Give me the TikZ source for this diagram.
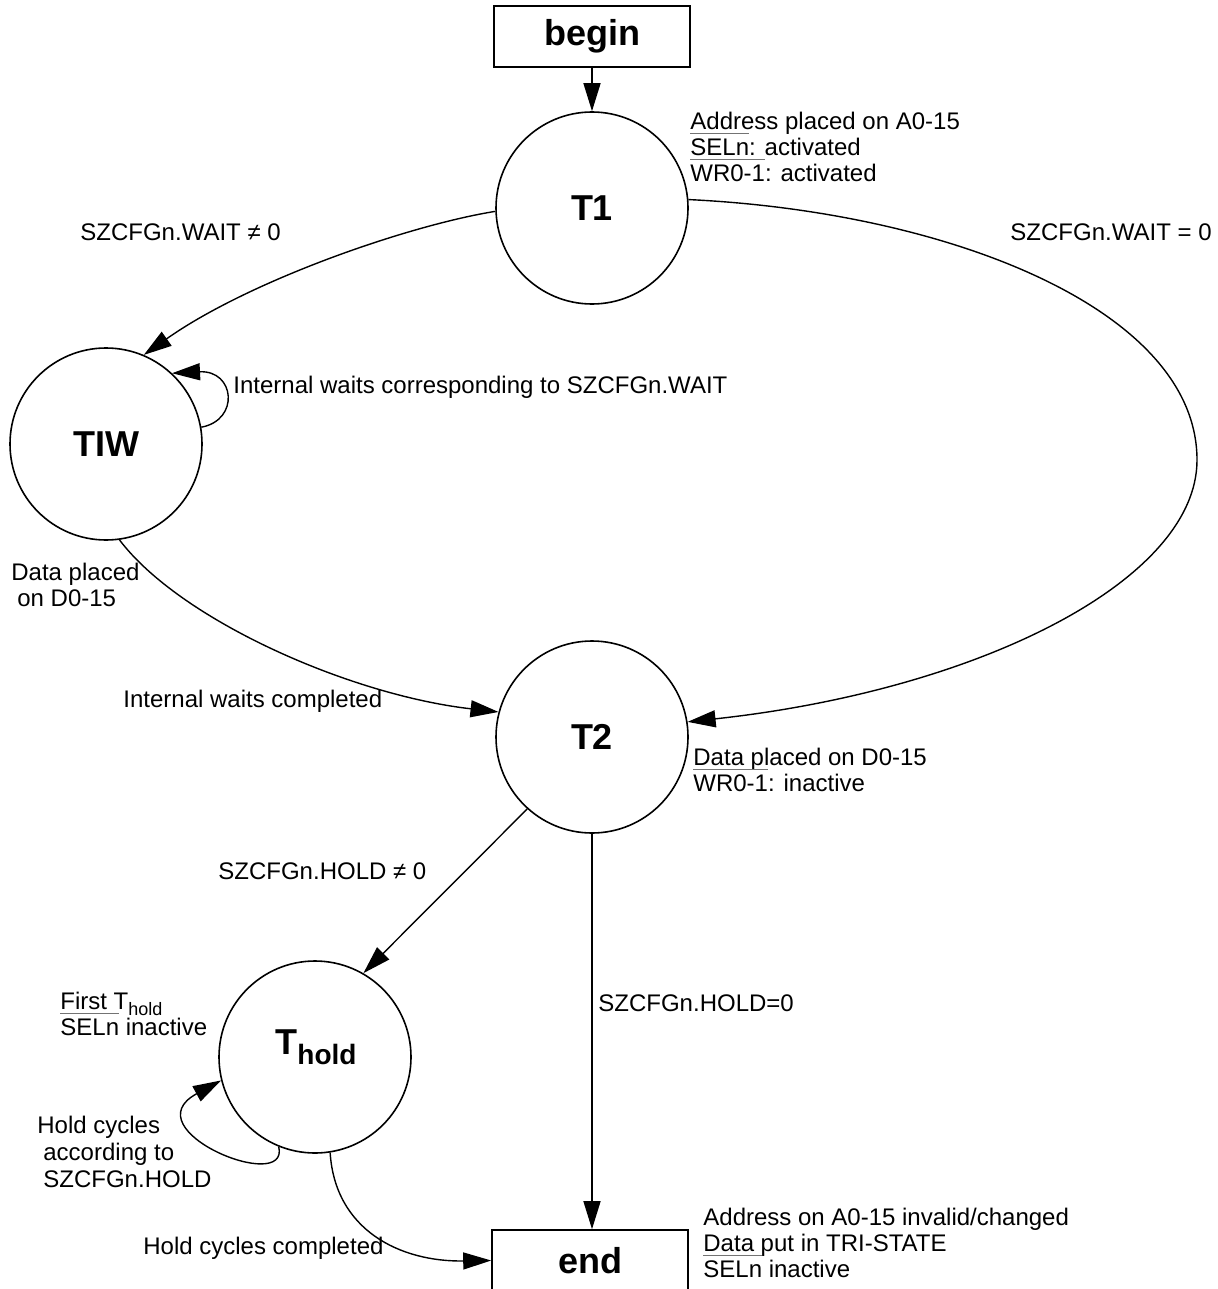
\documentclass[tikz,border=0pt]{standalone}
\usepackage{fontspec}
\setmainfont{Liberation Sans}
\usetikzlibrary{arrows.meta}
\newcommand\barred[1]{\setbox0=\hbox{#1}\rlap{\smash{\color{black!55}\rule[0.88em]{\wd0}{0.6pt}}}\box0\relax}
\begin{document}
\begin{tikzpicture}[x=0.5pt,y=-0.5pt,
  every node/.style={font=\fontsize{12}{13}\selectfont, inner sep=0pt},
  fsm/.style={draw, circle, line width=0.8pt, minimum size=96pt, font=\bfseries\fontsize{18}{18}\selectfont},
  term/.style={draw, rectangle, line width=0.8pt, minimum width=98pt, minimum height=30.5pt, font=\bfseries\fontsize{18}{18}\selectfont},
  conn/.style={line width=0.7pt, -{Triangle[length=14pt,width=8.5pt]}},
  lbl/.style={anchor=west, align=left}]
\useasboundingbox (0,0) rectangle (1218,1289);

% states
\node[term] (begin) at (592,36.5) {begin};
\node[fsm] (T1) at (592,208) {T1};
\node[fsm] (TIW) at (106,444) {TIW};
\node[fsm] (T2) at (592,737) {T2};
\node[fsm] (Thold) at (315,1057) {};
\node[font=\bfseries\fontsize{18}{18}\selectfont] (tholdtxt) at (316,1047) {T\raisebox{-5pt}{\fontsize{14}{14}\selectfont hold}};
\node[term] (end) at (590,1260.5) {end};
\coordinate (rt) at (1197,460);

% connectors
\draw[conn] (begin) -- (T1);
\draw[conn] (T1.182) .. controls (410,225) and (250,280) .. (TIW.67);
\draw[conn] (TIW.10) .. controls (240,420) and (235,370) .. (TIW.47);
\draw[conn] (TIW.278) .. controls (180,620) and (350,695) .. (T2.165);
\draw[conn] (T1.5) .. controls (950,212) and (1197,310) .. (rt) .. controls (1197,580) and (980,690) .. (T2.9);
\draw[conn] (T2.228) -- (Thold.60);
\draw[conn] (T2.south) -- (T2.south |- end.north);
\draw[conn] (Thold.248) .. controls (290,1195) and (130,1130) .. (Thold.194);
\draw[conn] (Thold.279) .. controls (335,1230) and (400,1262) .. (end.west);

% labels
\node[lbl] (la) at (690,147) {Address placed on A0-15\\\barred{SELn}: activated\\\barred{WR0-1}: activated};
\node[lbl] (lb) at (80,232) {SZCFGn.WAIT ≠ 0};
\node[anchor=east] (lc) at (1212,232) {SZCFGn.WAIT = 0};
\node[lbl] (ld) at (233,387) {Internal waits corresponding to SZCFGn.WAIT};
\node[lbl] (le) at (11,585) {Data placed\\\hspace*{3pt}on D0-15};
\node[lbl] (lf) at (123,701) {Internal waits completed};
\node[lbl] (lg) at (693,770) {Data placed on D0-15\\\barred{WR0-1}: inactive};
\node[lbl] (lh) at (218,871) {SZCFGn.HOLD ≠ 0};
\node[lbl] (li) at (598,1003) {SZCFGn.HOLD=0};
\node[lbl] (lj) at (60,1014) {First T\raisebox{-3pt}{\fontsize{9}{9}\selectfont hold}\\\barred{SELn} inactive};
\node[lbl, font=\fontsize{12}{13.5}\selectfont] (lk) at (37,1152) {Hold cycles\\\hspace*{3pt}according to\\\hspace*{3pt}SZCFGn.HOLD};
\node[lbl] (ll) at (143,1248) {Hold cycles completed};
\node[lbl] (lm) at (703,1243) {Address on A0-15 invalid/changed\\Data put in TRI-STATE\\\barred{SELn} inactive};
\end{tikzpicture}
\end{document}
